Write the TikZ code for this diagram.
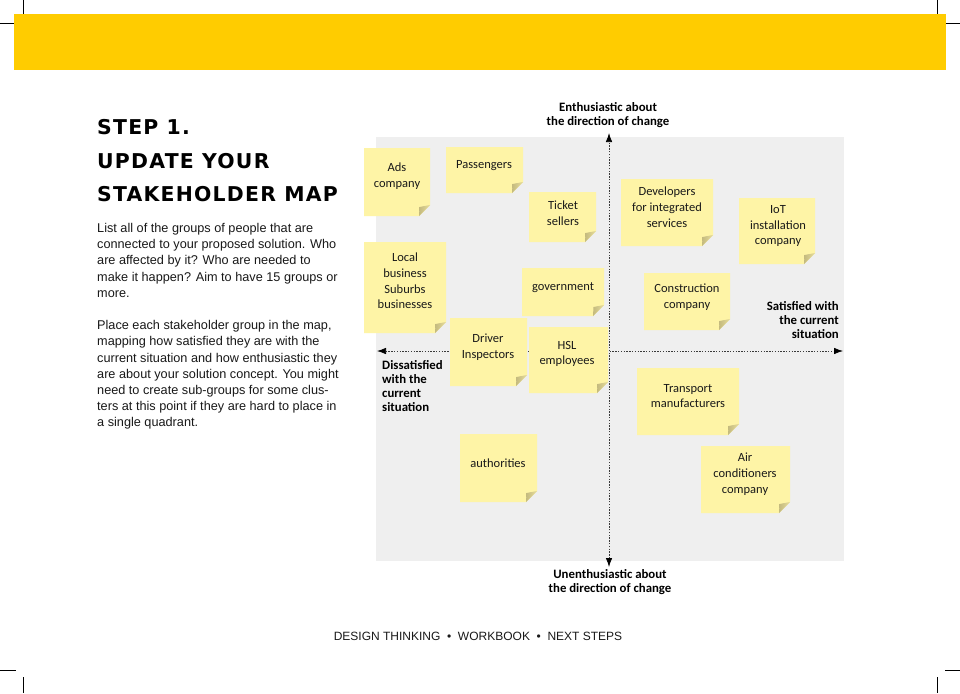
\documentclass[tikz,border=0pt]{standalone}
\usepackage{fontspec}
\setmainfont{Liberation Sans}
\newfontfamily\notefont{Carlito}
\newfontfamily\titlefont[LetterSpace=6.0]{DejaVu Sans}
\usetikzlibrary{arrows.meta}
\definecolor{bandyellow}{HTML}{FFCC00}
\definecolor{mapgray}{HTML}{EFEFEF}
\definecolor{notefill}{HTML}{FEF4A6}
\definecolor{folddark}{HTML}{C4BA7E}
\definecolor{foldlight}{HTML}{E6DC9C}
\definecolor{axisgray}{HTML}{3A3A3A}
\tikzset{
  cropmark/.style={line width=0.9pt, black},
  axisline/.style={axisgray, line width=0.75pt, dash pattern=on 1.3pt off 1.5pt,
    {Latex[length=9pt,width=6.5pt,black]}-{Latex[length=9pt,width=6.5pt,black]}},
  notetext/.style={font=\notefont\fontsize{12.5}{15.8}\selectfont, align=center, inner sep=0pt, text=black!90},
  axislabel/.style={font=\notefont\bfseries\fontsize{12.8}{14}\selectfont, inner sep=0pt, text=black},
  bodytext/.style={font=\fontsize{12.7}{16.2}\selectfont, align=left, inner sep=0pt, anchor=north west, text=black!90},
}
\newcommand\stickynote[4]{%
  \fill[notefill] (#1,#2) -- (#3,#2) -- (#3,#4-11) -- (#3-11,#4) -- (#1,#4) -- cycle;
  \shade[left color=folddark, right color=foldlight] (#3-11,#4) -- (#3-10.5,#4-9) -- (#3,#4-11) -- cycle;
}
\begin{document}
\begin{tikzpicture}[x=1pt, y=-1pt]
\useasboundingbox (0,0) rectangle (960,693);
\fill[white] (0,0) rectangle (960,693);
% crop marks
\draw[cropmark] (23,0) -- (23,16);
\draw[cropmark] (0,23) -- (16,23);
\draw[cropmark] (937,0) -- (937,16);
\draw[cropmark] (945,23) -- (960,23);
\draw[cropmark] (0,670) -- (16,670);
\draw[cropmark] (23,677) -- (23,693);
\draw[cropmark] (945,670) -- (960,670);
\draw[cropmark] (937,677) -- (937,693);
% header band
\fill[bandyellow] (14,14) rectangle (946,70);
% title
\node[inner sep=0pt, anchor=north west, align=left,
  font=\titlefont\bfseries\fontsize{20.4}{33.5}\selectfont] (title) at (97,119.5)
  {STEP 1.\\UPDATE YOUR\\STAKEHOLDER MAP};
% body text
\node[bodytext] (body) at (97,223)
  {List all of the groups of people that are\\
   connected to your proposed solution. Who\\
   are affected by it? Who are needed to\\
   make it happen? Aim to have 15 groups or\\
   more.\\[16.2pt]
   Place each stakeholder group in the map,\\
   mapping how satisfied they are with the\\
   current situation and how enthusiastic they\\
   are about your solution concept. You might\\
   need to create sub-groups for some clus-\\
   ters at this point if they are hard to place in\\
   a single quadrant.};
% map background
\fill[mapgray] (376,137) rectangle (844,561);
% axes
\coordinate (ytop) at (609,133);
\coordinate (ybot) at (609,567);
\coordinate (xleft) at (377,351);
\coordinate (xright) at (843,351);
\draw[axisline] (ybot) -- (ytop);
\draw[axisline] (xleft) -- (xright);
% axis labels
\node[axislabel, align=center] (enth) at (608,115) {Enthusiastic about\\the direction of change};
\node[axislabel, align=center] (unenth) at (610,582.5) {Unenthusiastic about\\the direction of change};
\node[axislabel, align=left, anchor=north west] (dissat) at (382,360) {Dissatisfied\\with the\\current\\situation};
\node[axislabel, align=right, anchor=north east] (sat) at (839,301) {Satisfied with\\the current\\situation};
% sticky notes
\stickynote{364}{148}{430}{216}
\node[notetext] (ads) at (397,176) {Ads\\company};
\stickynote{446}{147}{523}{193}
\node[notetext] (pass) at (484,166) {Passengers};
\stickynote{529}{192}{596}{242}
\node[notetext] (ticket) at (563,213) {Ticket\\sellers};
\stickynote{364}{242}{446}{333}
\node[notetext] (local) at (405,281) {Local\\business\\Suburbs\\businesses};
\stickynote{522}{268}{604}{316}
\node[notetext] (gov) at (563,288) {government};
\stickynote{621}{179}{713}{246}
\node[notetext] (dev) at (667,207) {Developers\\for integrated\\services};
\stickynote{739}{198}{815}{264}
\node[notetext] (iot) at (778,226) {IoT\\installation\\company};
\stickynote{644}{273}{730}{330}
\node[notetext] (constr) at (687,297) {Construction\\company};
\stickynote{450}{318}{527}{386}
\node[notetext] (driver) at (488,347) {Driver\\Inspectors};
\stickynote{529}{327}{608}{393}
\node[notetext] (hsl) at (567,354) {HSL\\employees};
\stickynote{637}{368}{739}{435}
\node[notetext] (transp) at (688,396) {Transport\\manufacturers};
\stickynote{701}{446}{790}{513}
\node[notetext] (air) at (745,474) {Air\\conditioners\\company};
\stickynote{460}{434}{537}{502}
\node[notetext] (auth) at (498,463) {authorities};
% footer
\node[inner sep=0pt, font=\fontsize{12}{14}\selectfont, text=black!90] (footer) at (478,636)
  {DESIGN THINKING\ \ \textbullet\ \ WORKBOOK\ \ \textbullet\ \ NEXT STEPS};
\end{tikzpicture}
\end{document}
